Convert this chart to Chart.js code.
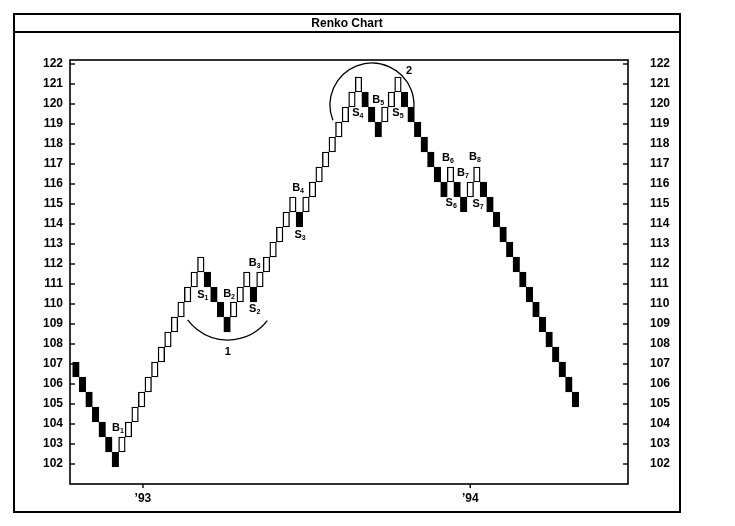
<!DOCTYPE html>
<html><head><meta charset="utf-8">
<script src="https://cdn.jsdelivr.net/npm/chart.js@4.4.1/dist/chart.umd.min.js"></script>
<style>html,body{margin:0;padding:0;background:#fff;}#wrap{width:735px;height:526px;}</style>
</head><body><div id="wrap"><canvas id="c" width="735" height="526"></canvas></div>
<script>
// Renko bricks (box = 0.75), in order: open and close of each brick
const brickOpen = [
 107.10,106.35,105.60,104.85,104.10,103.35,102.60,
 102.60,103.35,104.10,104.85,105.60,106.35,107.10,107.85,108.60,109.35,110.10,110.85,111.60,
 111.60,110.85,110.10,109.35,
 109.35,110.10,110.85,
 110.85,
 110.85,111.60,112.35,113.10,113.85,114.60,
 114.60,
 114.60,115.35,116.10,116.85,117.60,118.35,119.10,119.85,120.60,
 120.60,119.85,119.10,
 119.10,119.85,120.60,
 120.60,119.85,119.10,118.35,117.60,116.85,116.10,
 116.10,
 116.10,115.35,
 115.35,116.10,
 116.10,115.35,114.60,113.85,113.10,112.35,111.60,110.85,110.10,109.35,108.60,107.85,107.10,106.35,105.60
];
const brickClose = [
 106.35,105.60,104.85,104.10,103.35,102.60,101.85,
 103.35,104.10,104.85,105.60,106.35,107.10,107.85,108.60,109.35,110.10,110.85,111.60,112.35,
 110.85,110.10,109.35,108.60,
 110.10,110.85,111.60,
 110.10,
 111.60,112.35,113.10,113.85,114.60,115.35,
 113.85,
 115.35,116.10,116.85,117.60,118.35,119.10,119.85,120.60,121.35,
 119.85,119.10,118.35,
 119.85,120.60,121.35,
 119.85,119.10,118.35,117.60,116.85,116.10,115.35,
 116.85,
 115.35,114.60,
 116.10,116.85,
 115.35,114.60,113.85,113.10,112.35,111.60,110.85,110.10,109.35,108.60,107.85,107.10,106.35,105.60,104.85
];
const yTickValues = [102,103,104,105,106,107,108,109,110,111,112,113,114,115,116,117,118,119,120,121,122];
const xTickPositions = [10.2, 60];
const xTickLabels = ['\u201993', '\u201994'];

// signal labels (letter + subscript), anchored in data units (brick index, price)
const signalLetter = ['B','S','B','S','B','B','S','S','B','S','B','S','B','B','S'];
const signalSub    = ['1','1','2','2','3','4','3','4','5','5','6','6','7','8','7'];
const signalX      = [6.4,19.3,23.3,27.2,27.2,33.8,34.1,42.9,46.0,49.0,56.6,57.1,58.9,60.7,61.2];
const signalY      = [103.8,110.45,110.5,109.75,112.05,115.8,113.45,119.55,120.2,119.55,117.3,115.05,116.55,117.35,115.0];

// circled formations
const arcText   = ['1','2'];
const arcCx     = [23.1, 45.05];
const arcCy     = [110.7, 119.95];
const arcLabelX = [23.1, 50.7];
const arcLabelY = [107.6, 121.65];

const FONT = "'Liberation Sans Narrow','Liberation Sans',Arial,sans-serif";

const decor = {
  id:'decor',
  beforeDraw(chart){
    const ctx=chart.ctx; ctx.save(); ctx.fillStyle='#fff'; ctx.fillRect(0,0,chart.width,chart.height); ctx.restore();
  },
  afterDatasetsDraw(chart){
    const ctx=chart.ctx, a=chart.chartArea, xs=chart.scales.x, ys=chart.scales.y;
    ctx.save();
    ctx.strokeStyle='#000'; ctx.fillStyle='#000';
    ctx.lineWidth=1.6;
    ctx.strokeRect(a.left,a.top,a.right-a.left,a.bottom-a.top);
    ctx.lineWidth=1.4;
    yTickValues.forEach(v=>{
      const y=ys.getPixelForValue(v);
      ctx.beginPath(); ctx.moveTo(a.left,y); ctx.lineTo(a.left+5,y); ctx.stroke();
      ctx.beginPath(); ctx.moveTo(a.right,y); ctx.lineTo(a.right-5,y); ctx.stroke();
    });
    xTickPositions.forEach(v=>{
      const x=xs.getPixelForValue(v);
      ctx.beginPath(); ctx.moveTo(x,a.bottom); ctx.lineTo(x,a.bottom+4); ctx.stroke();
    });
    ctx.lineWidth=1.3;
    const r1=50, r2=42;
    let cx=xs.getPixelForValue(arcCx[0]), cy=ys.getPixelForValue(arcCy[0]);
    ctx.beginPath(); ctx.arc(cx,cy,r1,0.66,2.50); ctx.stroke();
    cx=xs.getPixelForValue(arcCx[1]); cy=ys.getPixelForValue(arcCy[1]);
    ctx.beginPath(); ctx.arc(cx,cy,r2,2.77,0.05); ctx.stroke();
    ctx.textAlign='center'; ctx.textBaseline='middle';
    ctx.font='bold 11px '+FONT;
    arcText.forEach((t,i)=>{
      ctx.fillText(t, xs.getPixelForValue(arcLabelX[i]), ys.getPixelForValue(arcLabelY[i]));
    });
    signalLetter.forEach((L,i)=>{
      const x=xs.getPixelForValue(signalX[i]), y=ys.getPixelForValue(signalY[i]);
      ctx.font='bold 11px '+FONT;
      const w1=ctx.measureText(L).width;
      ctx.font='bold 7px '+FONT;
      const w2=ctx.measureText(signalSub[i]).width;
      const x0=x-(w1+w2)/2;
      ctx.textAlign='left';
      ctx.font='bold 11px '+FONT;
      ctx.fillText(L,x0,y);
      ctx.font='bold 7px '+FONT;
      ctx.fillText(signalSub[i],x0+w1,y+3);
    });
    ctx.restore();
  },
  afterDraw(chart){
    const ctx=chart.ctx;
    ctx.save();
    ctx.strokeStyle='#000'; ctx.lineWidth=2;
    ctx.strokeRect(14,14,666,498);
    ctx.beginPath(); ctx.moveTo(14,32); ctx.lineTo(680,32); ctx.stroke();
    ctx.fillStyle='#000'; ctx.font='bold 12px '+FONT; ctx.textAlign='center'; ctx.textBaseline='middle';
    ctx.fillText('Renko Chart',347,23.5);
    ctx.restore();
  }
};

const tickFont={family:FONT,size:12,weight:'bold'};
function yAxis(pos,pad,w){
  return {
    type:'linear', position:pos, min:101, max:122.2,
    grid:{display:false,drawTicks:false}, border:{display:false},
    afterBuildTicks:s=>{s.ticks=yTickValues.map(v=>({value:v}));},
    ticks:{color:'#000',font:tickFont,padding:pad,autoSkip:false,callback:v=>String(v)},
    afterFit:s=>{s.width=w;}
  };
}

new Chart(document.getElementById('c'),{
  type:'bar',
  data:{datasets:[{
    data:brickOpen.map((o,i)=>({x:i,y:[o,brickClose[i]]})),
    backgroundColor:ctx=>brickClose[ctx.dataIndex]>brickOpen[ctx.dataIndex]?'#ffffff':'#000000',
    borderColor:'#000',
    borderWidth:1.4,
    borderSkipped:false,
    barPercentage:1, categoryPercentage:1,
    yAxisID:'y'
  }]},
  options:{
    responsive:false, animation:false, devicePixelRatio:1,
    layout:{padding:{left:20,right:55,top:60,bottom:14}},
    plugins:{legend:{display:false},tooltip:{enabled:false},title:{display:false}},
    scales:{
      x:{type:'linear',min:-0.9,max:84,offset:false,
         grid:{display:false,drawTicks:false,offset:false}, border:{display:false},
         afterBuildTicks:s=>{s.ticks=xTickPositions.map(v=>({value:v}));},
         ticks:{color:'#000',font:tickFont,padding:7,autoSkip:false,maxRotation:0,callback:(v,i)=>xTickLabels[i]},
         afterFit:s=>{s.height=28;}
      },
      y:yAxis('left',7,50),
      y2:yAxis('right',22,52)
    }
  },
  plugins:[decor]
});
</script></body></html>
